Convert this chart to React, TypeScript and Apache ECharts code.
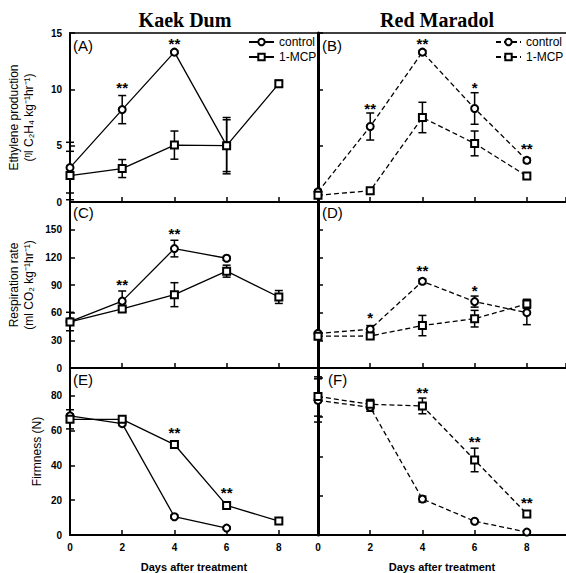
import React, { useEffect, useRef } from "react";
import * as echarts from "echarts";

// ---------- data ----------
const kdDays = [0, 2, 4, 6];
const allDays = [0, 2, 4, 6, 8];

// (A) Kaek Dum ethylene
const kdEthControl = [3.05, 8.2, 13.3, 5.0];
const kdEthControlErr = [2.25, 1.25, 0.1, 2.5];
const kdEthMcp = [2.35, 2.97, 5.05, 5.0, 10.5];
const kdEthMcpErr = [2.15, 0.8, 1.25, 2.3, 0.3];
const starsA: [number, number, string][] = [[2, 10.4, "**"], [4, 14.3, "**"]];

// (B) Red Maradol ethylene
const rmEthControl = [0.9, 6.7, 13.3, 8.3, 3.7];
const rmEthControlErr = [0.2, 1.2, 0.15, 1.4, 0.2];
const rmEthMcp = [0.6, 1.0, 7.5, 5.2, 2.3];
const rmEthMcpErr = [0.2, 0.2, 1.35, 1.1, 0.2];
const starsB: [number, number, string][] = [[2, 8.6, "**"], [4, 14.3, "**"], [6, 10.4, "*"], [8, 5.0, "**"]];

// (C) Kaek Dum respiration
const kdRespControl = [50.4, 72.5, 129.5, 119];
const kdRespControlErr = [10, 11, 9, 2];
const kdRespMcp = [50, 64, 79.5, 105, 77];
const kdRespMcpErr = [3, 3, 13, 6.5, 7];
const starsC: [number, number, string][] = [[2, 94, "**"], [4, 149, "**"]];

// (D) Red Maradol respiration
const rmRespControl = [37.5, 42, 94, 72, 60];
const rmRespControlErr = [2, 4, 2.5, 6, 13];
const rmRespMcp = [34.5, 34.7, 46, 53.5, 69.5];
const rmRespMcpErr = [2, 2.5, 11, 9, 5];
const starsD: [number, number, string][] = [[2, 58, "*"], [4, 109, "**"], [6, 87, "*"]];

// (E) Kaek Dum firmness
const kdFirmControl = [68.5, 64, 10.5, 4];
const kdFirmControlErr = [1, 1, 0.8, 0.8];
const kdFirmMcp = [66.5, 66.5, 52, 17, 8];
const kdFirmMcpErr = [5.5, 1, 1, 1, 0.8];
const starsE: [number, number, string][] = [[4, 60.5, "**"], [6, 26, "**"]];

// (F) Red Maradol firmness
const rmFirmControl = [68.5, 65, 18.3, 7, 1.5];
const rmFirmControlErr = [11, 2, 1.5, 0.5, 0.5];
const rmFirmMcp = [70.5, 66.5, 65.7, 38.2, 10.7];
const rmFirmMcpErr = [10, 2.5, 4, 6, 1];
const starsF: [number, number, string][] = [[4, 74, "**"], [6, 49, "**"], [8, 18, "**"]];

const xTicksMax = 9.5;
const rowMax = [15, 180, 96];
const rowMaxRight = [15, 180, 85];
const rowInterval = [5, 30, 20];
const yNames = [
  "Ethylene production\n(ᵑl C₂H₄ kg⁻¹hr⁻¹)",
  "Respiration rate\n(ml CO₂ kg⁻¹hr⁻¹)",
  "Firmness (N)",
];
const panelLetters = ["(A)", "(B)", "(C)", "(D)", "(E)", "(F)"];
const titles = ["Kaek Dum", "Red Maradol"];

const SANS = '"Liberation Sans", Arial, sans-serif';
const SERIF = '"Liberation Serif", "Times New Roman", serif';

function pairs(days: number[], vals: number[]) {
  return vals.map((v, i) => [days[i], v]);
}
function triples(days: number[], vals: number[], errs: number[]) {
  return vals.map((v, i) => [days[i], v, errs[i]]);
}

function errorSeries(grid: number, data: number[][]) {
  return {
    type: "custom",
    xAxisIndex: grid,
    yAxisIndex: grid,
    z: 2,
    silent: true,
    data,
    renderItem: (params: any, api: any) => {
      const x = api.value(0);
      const m = api.value(1);
      const e = api.value(2);
      const t = api.coord([x, m + e]);
      const b = api.coord([x, m - e]);
      const w = 4;
      const st = { stroke: "#000", lineWidth: 1.5 };
      return {
        type: "group",
        children: [
          { type: "line", shape: { x1: t[0], y1: t[1], x2: b[0], y2: b[1] }, style: st },
          { type: "line", shape: { x1: t[0] - w, y1: t[1], x2: t[0] + w, y2: t[1] }, style: st },
          { type: "line", shape: { x1: b[0] - w, y1: b[1], x2: b[0] + w, y2: b[1] }, style: st },
        ],
      };
    },
  };
}

function starSeries(grid: number, stars: [number, number, string][]) {
  return {
    type: "custom",
    xAxisIndex: grid,
    yAxisIndex: grid,
    z: 4,
    silent: true,
    data: stars.map((s) => [s[0], s[1]]),
    renderItem: (params: any, api: any) => {
      const p = api.coord([api.value(0), api.value(1)]);
      return {
        type: "text",
        x: p[0],
        y: p[1] + 3,
        style: {
          text: stars[params.dataIndex][2],
          align: "center",
          verticalAlign: "middle",
          font: `bold 15px ${SANS}`,
          fill: "#000",
        },
      };
    },
  };
}

function lineSeries(grid: number, name: string, data: number[][], symbol: string, dashed: boolean) {
  return {
    type: "line",
    name,
    xAxisIndex: grid,
    yAxisIndex: grid,
    z: 3,
    data,
    symbol,
    symbolSize: 7,
    showSymbol: true,
    lineStyle: { color: "#000", width: 1.3, type: dashed ? [5, 3] : "solid" },
    itemStyle: { color: "#000", borderColor: "#000", borderWidth: 1.3 },
    emphasis: { disabled: true },
  };
}

function panel(
  grid: number,
  dashed: boolean,
  cDays: number[],
  c: number[],
  cErr: number[],
  m: number[],
  mErr: number[],
  stars: [number, number, string][]
) {
  const cn = dashed ? "control|RM" : "control";
  const mn = dashed ? "1-MCP|RM" : "1-MCP";
  return [
    errorSeries(grid, triples(cDays, c, cErr)),
    errorSeries(grid, triples(allDays, m, mErr)),
    lineSeries(grid, cn, pairs(cDays, c), "emptyCircle", dashed),
    lineSeries(grid, mn, pairs(allDays, m), "emptyRect", dashed),
    starSeries(grid, stars),
  ];
}

function buildOption() {
  const grids: any[] = [];
  const xAxes: any[] = [];
  const yAxes: any[] = [];
  const rowsTop = [33, 202, 368];
  const rowsH = [169, 166, 167];
  for (let i = 0; i < 6; i++) {
    const row = Math.floor(i / 2);
    const right = i % 2 === 1;
    grids.push({ left: right ? 318 : 70, top: rowsTop[row], width: 248, height: rowsH[row] });
    xAxes.push({
      gridIndex: i,
      type: "value",
      min: 0,
      max: xTicksMax,
      interval: 2,
      position: "bottom",
      axisLine: { onZero: false, lineStyle: { color: "#000", width: 2 } },
      axisTick: { inside: true, length: 5, lineStyle: { color: "#000", width: 1.5 } },
      axisLabel: {
        show: row === 2,
        showMinLabel: true,
        showMaxLabel: false,
        color: "#000",
        fontFamily: SANS,
        fontWeight: "bold",
        fontSize: 10,
        margin: 7,
      },
      splitLine: { show: false },
      name: row === 2 ? "Days after treatment" : "",
      nameLocation: "middle",
      nameGap: 26,
      nameTextStyle: { color: "#000", fontFamily: SANS, fontWeight: "bold", fontSize: 11 },
    });
    yAxes.push({
      gridIndex: i,
      type: "value",
      min: 0,
      max: right ? rowMaxRight[row] : rowMax[row],
      interval: rowInterval[row],
      axisLine: { show: true, onZero: false, lineStyle: { color: "#000", width: right ? 3 : 2 } },
      axisTick: { show: true, inside: true, length: 5, lineStyle: { color: "#000", width: 1.5 } },
      axisLabel: {
        show: !right,
        showMinLabel: true,
        showMaxLabel: row === 0,
        color: "#000",
        fontFamily: SANS,
        fontWeight: "bold",
        fontSize: 10,
        margin: 8,
      },
      splitLine: { show: false },
      name: right ? "" : yNames[row],
      nameLocation: "middle",
      nameRotate: 90,
      nameGap: row === 2 ? 26 : 34,
      nameTextStyle: { color: "#000", fontFamily: SANS, fontSize: 12, lineHeight: 15 },
    });
  }
  // top borders
  xAxes.push({
    gridIndex: 0, type: "value", min: 0, max: xTicksMax, position: "top",
    axisLine: { onZero: false, lineStyle: { color: "#000", width: 1.5 } }, axisTick: { show: false },
    axisLabel: { show: false }, splitLine: { show: false },
  });
  xAxes.push({
    gridIndex: 1, type: "value", min: 0, max: xTicksMax, position: "top",
    axisLine: { onZero: false, lineStyle: { color: "#000", width: 1.5 } }, axisTick: { show: false },
    axisLabel: { show: false }, splitLine: { show: false },
  });

  const series: any[] = [
    ...panel(0, false, kdDays, kdEthControl, kdEthControlErr, kdEthMcp, kdEthMcpErr, starsA),
    ...panel(1, true, allDays, rmEthControl, rmEthControlErr, rmEthMcp, rmEthMcpErr, starsB),
    ...panel(2, false, kdDays, kdRespControl, kdRespControlErr, kdRespMcp, kdRespMcpErr, starsC),
    ...panel(3, true, allDays, rmRespControl, rmRespControlErr, rmRespMcp, rmRespMcpErr, starsD),
    ...panel(4, false, kdDays, kdFirmControl, kdFirmControlErr, kdFirmMcp, kdFirmMcpErr, starsE),
    ...panel(5, true, allDays, rmFirmControl, rmFirmControlErr, rmFirmMcp, rmFirmMcpErr, starsF),
  ];

  const letterPos = [
    [73, 38], [322, 38], [73, 205], [322, 205], [73, 372], [328, 372],
  ];
  const graphic: any[] = [
    { type: "text", x: 185, y: 20, style: { text: titles[0], align: "center", verticalAlign: "middle", font: `bold 20px ${SERIF}`, fill: "#000" } },
    { type: "text", x: 437, y: 20, style: { text: titles[1], align: "center", verticalAlign: "middle", font: `bold 20px ${SERIF}`, fill: "#000" } },
    ...panelLetters.map((t, i) => ({
      type: "text", x: letterPos[i][0], y: letterPos[i][1],
      style: { text: t, align: "left", verticalAlign: "top", font: `15px ${SANS}`, fill: "#000" },
    })),
  ];

  const legendBase = {
    orient: "vertical",
    itemWidth: 25,
    itemHeight: 8,
    itemGap: 3,
    padding: 0,
    selectedMode: false,
    textStyle: { color: "#000", fontFamily: SANS, fontSize: 12 },
  };

  return {
    animation: false,
    backgroundColor: "#fff",
    grid: grids,
    xAxis: xAxes,
    yAxis: yAxes,
    legend: [
      { ...legendBase, left: 248, top: 36, data: ["control", "1-MCP"] },
      { ...legendBase, left: 495, top: 36, data: ["control|RM", "1-MCP|RM"], formatter: (n: string) => n.split("|")[0] },
    ],
    graphic,
    series,
  };
}

export default function App() {
  const ref = useRef<HTMLDivElement>(null);
  useEffect(() => {
    if (!ref.current) return;
    const chart = echarts.init(ref.current, undefined, { renderer: "svg" });
    chart.setOption(buildOption() as any);
    return () => chart.dispose();
  }, []);
  return (
    <div
      ref={ref}
      style={{ position: "absolute", left: 0, top: 0, width: 566, height: 573, background: "#fff" }}
    />
  );
}
